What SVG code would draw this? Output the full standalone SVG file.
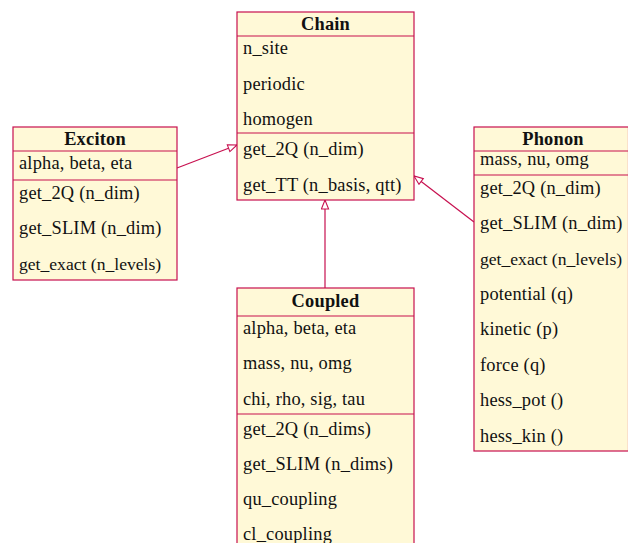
<svg xmlns="http://www.w3.org/2000/svg" width="628" height="543" viewBox="0 0 628 543">
<defs>
<style>
.box{fill:#fff9d7;stroke:#c7104f;stroke-width:1.2}
.sep{stroke:#c7104f;stroke-width:1.2;fill:none}
text{font-family:"Liberation Serif","Times New Roman",serif;font-size:18.4px;letter-spacing:0.2px;fill:#111}
.t{font-weight:bold;text-anchor:middle}
.n{font-size:17.6px;letter-spacing:0}
.edge{stroke:#c7104f;stroke-width:1.2;fill:none;marker-end:url(#tri)}
</style>
<marker id="tri" viewBox="0 0 12 10" refX="11" refY="5" markerWidth="11" markerHeight="9" markerUnits="userSpaceOnUse" orient="auto">
<path d="M1,1 L11,5 L1,9 Z" fill="#fff" stroke="#c7104f" stroke-width="1.2"/>
</marker>
</defs>
<rect width="628" height="543" fill="#fff"/>
<g id="connectors">
<line class="edge" x1="177" y1="168" x2="237" y2="145"/>
<line class="edge" x1="474" y1="222" x2="414" y2="176"/>
<line class="edge" x1="325" y1="288" x2="325" y2="200"/>
</g>
<g id="Chain">
<rect class="box" x="237" y="12" width="177" height="188"/>
<path class="sep" d="M237,36H414M237,133H414"/>
<text class="t" x="325.5" y="30">Chain</text>
<text x="243" y="54">n_site</text>
<text x="243" y="90">periodic</text>
<text x="243" y="125">homogen</text>
<text x="243" y="155">get_2Q (n_dim)</text>
<text x="243" y="191">get_TT (n_basis, qtt)</text>
</g>
<g id="Exciton">
<rect class="box" x="13" y="127" width="164" height="153"/>
<path class="sep" d="M13,151H177M13,180H177"/>
<text class="t" x="95" y="145">Exciton</text>
<text x="19" y="169">alpha, beta, eta</text>
<text x="19" y="199">get_2Q (n_dim)</text>
<text x="19" y="234">get_SLIM (n_dim)</text>
<text class="n" x="19" y="270">get_exact (n_levels)</text>
</g>
<g id="Phonon">
<rect class="box" x="474" y="127" width="154.5" height="324"/>
<path class="sep" d="M474,151H628M474,175H628"/>
<text class="t" x="553" y="145">Phonon</text>
<text x="480" y="165">mass, nu, omg</text>
<text x="480" y="194">get_2Q (n_dim)</text>
<text x="480" y="229">get_SLIM (n_dim)</text>
<text class="n" x="480" y="265">get_exact (n_levels)</text>
<text x="480" y="300">potential (q)</text>
<text x="480" y="335">kinetic (p)</text>
<text x="480" y="371">force (q)</text>
<text x="480" y="406">hess_pot ()</text>
<text x="480" y="442">hess_kin ()</text>
</g>
<g id="Coupled">
<rect class="box" x="237" y="288" width="177" height="270"/>
<path class="sep" d="M237,316H414M237,414H414"/>
<text class="t" x="325.5" y="307">Coupled</text>
<text x="243" y="334">alpha, beta, eta</text>
<text x="243" y="369">mass, nu, omg</text>
<text x="243" y="405">chi, rho, sig, tau</text>
<text x="243" y="435">get_2Q (n_dims)</text>
<text x="243" y="470">get_SLIM (n_dims)</text>
<text x="243" y="505">qu_coupling</text>
<text x="243" y="540">cl_coupling</text>
</g>
</svg>
